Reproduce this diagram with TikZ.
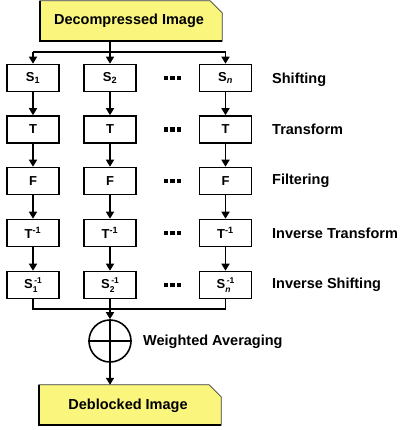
\documentclass[tikz,border=0pt]{standalone}
\usepackage{fontspec}
\setmainfont{Liberation Sans}
\usetikzlibrary{arrows.meta,calc}
\definecolor{noteyellow}{RGB}{250,245,125}
\definecolor{noteedge}{RGB}{60,60,60}

% yellow note shape with a clipped corner around a named node
\newcommand{\notebox}[1]{%
  \draw[fill=noteyellow, draw=noteedge, line width=0.8pt]
    (#1.south west) -- (#1.north west) -- ($(#1.north east)+(-12,0)$)
    -- ($(#1.north east)+(0,12)$) -- (#1.south east) -- cycle;
  \draw[line width=1.6pt, black] (#1.north west) -- (#1.south west) -- (#1.south east);
}
\newcommand{\dotrow}{\rule{4.5pt}{4.5pt}\hspace{2pt}\rule{4.5pt}{4.5pt}\hspace{2pt}\rule{4.5pt}{4.5pt}}
% inverse-shift label: index below, exponent above
\newcommand{\invshift}[1]{S\rlap{\raisebox{-3.2pt}{\fontsize{8.5}{9}\selectfont #1}}%
  \raisebox{5.2pt}{\fontsize{8.5}{9}\selectfont\,-1}}

\begin{document}
\begin{tikzpicture}[x=1pt,y=-1pt,
  font=\bfseries\fontsize{13}{15}\selectfont,
  stage/.style={draw, line width=1.6pt, minimum width=52pt, minimum height=27pt, inner sep=0pt},
  flow/.style={line width=1.6pt, -{Triangle[width=8pt,length=7pt]}},
  wire/.style={line width=1.6pt},
  tag/.style={anchor=west, inner sep=0pt, font=\bfseries\fontsize{14.5}{16}\selectfont},
  note/.style={minimum width=182pt, minimum height=40pt, inner sep=0pt, font=\bfseries\fontsize{14.5}{16}\selectfont},
  more/.style={inner sep=0pt}
]
\useasboundingbox (0,0) rectangle (402,430);

% source and result
\node[note] (src) at (131,21) {};
\notebox{src}
\node[font=\bfseries\fontsize{14.5}{16}\selectfont] (srctext) at (129,21) {Decompressed Image};

\node[note] (dst) at (130,405) {};
\notebox{dst}
\node[font=\bfseries\fontsize{14.5}{16}\selectfont] (dsttext) at (128,406) {Deblocked Image};

% stage grid
\foreach \col/\cx in {1/33, 2/110, n/225.5} {
  \node[stage] (s\col) at (\cx,78) {};
  \node[stage] (t\col) at (\cx,129.5) {T};
  \node[stage] (f\col) at (\cx,181) {F};
  \node[stage] (ti\col) at (\cx,233) {T\textsuperscript{-1}};
  \node[stage] (si\col) at (\cx,285) {};
  \draw[flow] (s\col) -- (t\col);
  \draw[flow] (t\col) -- (f\col);
  \draw[flow] (f\col) -- (ti\col);
  \draw[flow] (ti\col) -- (si\col);
}
\node (s1lab) at (s1) {S\textsubscript{1}};
\node (s2lab) at (s2) {S\textsubscript{2}};
\node (snlab) at (sn) {S\textsubscript{\itshape n}};
\node (si1lab) at (si1) {\invshift{1}};
\node (si2lab) at (si2) {\invshift{2}};
\node (sinlab) at (sin) {\invshift{\itshape n}};

% ellipsis between columns
\foreach \r/\ry in {1/78, 2/129.5, 3/181, 4/233, 5/285}
  \node[more] (dots\r) at (172.5,\ry) {\dotrow};

% row labels
\node[tag] (lshift) at (272,80) {Shifting};
\node[tag] (ltrans) at (272,129.5) {Transform};
\node[tag] (lfilt) at (272,181) {Filtering};
\node[tag] (litrans) at (272,233) {Inverse Transform};
\node[tag] (lishift) at (272,285) {Inverse Shifting};

% fan-out from the source
\coordinate (splitL) at (33,52);
\coordinate (splitR) at (225.5,52);
\draw[wire] (splitL) -- (splitR);
\draw[flow] (src.south -| s2) -- (s2);
\draw[flow] (splitL) -- (s1);
\draw[flow] (splitR) -- (sn);

% weighted averaging
\node[circle, draw, line width=1.6pt, minimum size=42pt, inner sep=0pt] (sum) at (110,341) {};
\draw[line width=1.6pt] (sum.west) -- (sum.east);
\draw[line width=1.6pt] (sum.north) -- (sum.south);
\node[tag] (lsum) at (143,342) {Weighted Averaging};

\coordinate (mergeL) at (33,309);
\coordinate (mergeR) at (225.5,309);
\draw[wire] (si1) -- (mergeL) -- (mergeR) -- (sin);
\draw[flow] (si2) -- (sum);
\draw[flow] (sum.south) -- (dst.north -| sum);
\end{tikzpicture}
\end{document}
